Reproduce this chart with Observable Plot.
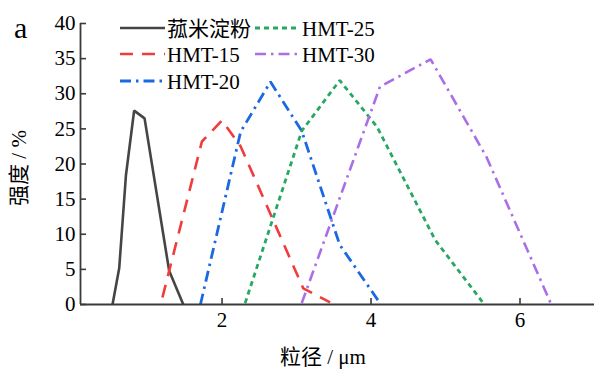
<!DOCTYPE html>
<html>
<head>
<meta charset="utf-8">
<script src="https://cdn.jsdelivr.net/npm/d3@7"></script>
<script src="https://cdn.jsdelivr.net/npm/@observablehq/plot@0.6"></script>
<style>
  html, body { margin: 0; padding: 0; background: #fff; }
  #wrap { position: relative; width: 594px; height: 369px; }
  #wrap > svg { position: absolute; left: 0; top: 0; }
  #wrap, #wrap svg, #wrap text { font-family: "Liberation Serif", "Times New Roman", Tinos, "DejaVu Serif", serif, "Noto Sans CJK SC" !important; }
</style>
</head>
<body>
<div id="wrap"></div>
<script>
// ---- data ----
const seriesNames = ["菰米淀粉", "HMT-15", "HMT-20", "HMT-25", "HMT-30"];

const wildRiceX = [0.53, 0.62, 0.71, 0.82, 0.96, 1.29, 1.48];
const wildRiceY = [0, 5.2, 18.4, 27.6, 26.5, 4.8, 0];

const hmt15X = [1.20, 1.73, 2.00, 2.25, 3.09, 3.45];
const hmt15Y = [1.0, 23.2, 26.2, 22.5, 2.3, 0.3];

const hmt20X = [1.71, 2.25, 2.65, 3.07, 3.58, 4.12];
const hmt20Y = [0, 24.6, 31.7, 24.7, 8.5, 0.2];

const hmt25X = [2.31, 3.07, 3.58, 4.08, 4.86, 5.50];
const hmt25Y = [0.2, 24.7, 31.9, 25.3, 9.2, 0.3];

const hmt30X = [3.07, 4.12, 4.80, 5.55, 6.42];
const hmt30Y = [0.2, 31.0, 34.9, 21.0, 0];

const xTicks = [2, 4, 6];
const yTicks = [0, 5, 10, 15, 20, 25, 30, 35, 40];
const xDomain = [0.1, 7];
const yDomain = [0, 40];

const colors = ["#454545", "#f03c3c", "#1a68e3", "#27a862", "#ab6ee6"];
const dashes = [null, "13,9", "11,5,2.5,5", "5,4", "11,5,2.5,5"];
const widths = [2.6, 2.6, 2.8, 2.8, 2.6];

const xs = [wildRiceX, hmt15X, hmt20X, hmt25X, hmt30X];
const ys = [wildRiceY, hmt15Y, hmt20Y, hmt25Y, hmt30Y];
const tables = xs.map((arr, i) => arr.map((x, j) => ({x, y: ys[i][j], s: seriesNames[i]})));

const W = 594, H = 369, mL = 80, mR = 0, mT = 23, mB = 65;
const frameW = W - mL - mR, frameH = H - mT - mB;
const font = `"Liberation Serif", "Times New Roman", Tinos, "DejaVu Serif", serif, "Noto Sans CJK SC"`;
const axisColor = "#3a3a3a";

const chart = Plot.plot({
  width: W, height: H,
  marginLeft: mL, marginRight: mR, marginTop: mT, marginBottom: mB,
  style: {fontFamily: font, fontSize: "21px", color: "#000", background: "transparent"},
  x: {domain: xDomain},
  y: {domain: yDomain},
  marks: [
    Plot.axisX({ticks: xTicks, tickFormat: d3.format("d"), tickSize: 0, tickPadding: 8, label: null, fontSize: 21, fill: "#000"}),
    Plot.axisY({ticks: yTicks, tickFormat: d3.format("d"), tickSize: 0, tickPadding: 5, label: null, fontSize: 21, fill: "#000"}),
    Plot.tickX(xTicks, {x: d => d, insetTop: frameH - 6, stroke: axisColor, strokeWidth: 1.6}),
    Plot.tickY(yTicks, {y: d => d, insetRight: frameW - 6, stroke: axisColor, strokeWidth: 1.6}),
    ...tables.map((t, i) => Plot.line(t, {
      x: "x", y: "y", stroke: colors[i], strokeWidth: widths[i],
      strokeDasharray: dashes[i], strokeLinejoin: "miter", strokeLinecap: "butt"
    })),
    Plot.ruleX([xDomain[0]], {stroke: axisColor, strokeWidth: 1.8}),
    Plot.ruleY([yDomain[0]], {stroke: axisColor, strokeWidth: 1.8})
  ]
});
document.getElementById("wrap").appendChild(chart);

// ---- overlay: panel letter, axis titles, legend ----
const ns = "http://www.w3.org/2000/svg";
const ov = document.createElementNS(ns, "svg");
ov.setAttribute("width", W); ov.setAttribute("height", H);
ov.setAttribute("font-family", font);
document.getElementById("wrap").appendChild(ov);

function txt(s, x, y, size, extra = {}) {
  const t = document.createElementNS(ns, "text");
  t.setAttribute("x", x); t.setAttribute("y", y);
  t.setAttribute("font-size", size);
  for (const k in extra) t.setAttribute(k, extra[k]);
  t.textContent = s;
  ov.appendChild(t);
  return t;
}
function seg(x1, x2, y, i) {
  const l = document.createElementNS(ns, "line");
  l.setAttribute("x1", x1); l.setAttribute("x2", x2);
  l.setAttribute("y1", y); l.setAttribute("y2", y);
  l.setAttribute("stroke", colors[i]);
  l.setAttribute("stroke-width", widths[i]);
  if (dashes[i]) l.setAttribute("stroke-dasharray", dashes[i]);
  ov.appendChild(l);
}

txt("a", 14, 38, 30);
txt("粒径 / μm", 323, 364, 21, {"text-anchor": "middle"});
txt("强度 / %", 0, 0, 21, {"text-anchor": "middle", transform: "translate(26,168) rotate(-90)"});

const legendPos = [
  {x: 120, y: 28}, {x: 120, y: 54}, {x: 120, y: 81},
  {x: 255, y: 28}, {x: 255, y: 54}
];
seriesNames.forEach((name, i) => {
  const p = legendPos[i];
  seg(p.x, p.x + 45, p.y, i);
  txt(name, p.x + 47, p.y + 8, 21);
});
</script>
</body>
</html>
